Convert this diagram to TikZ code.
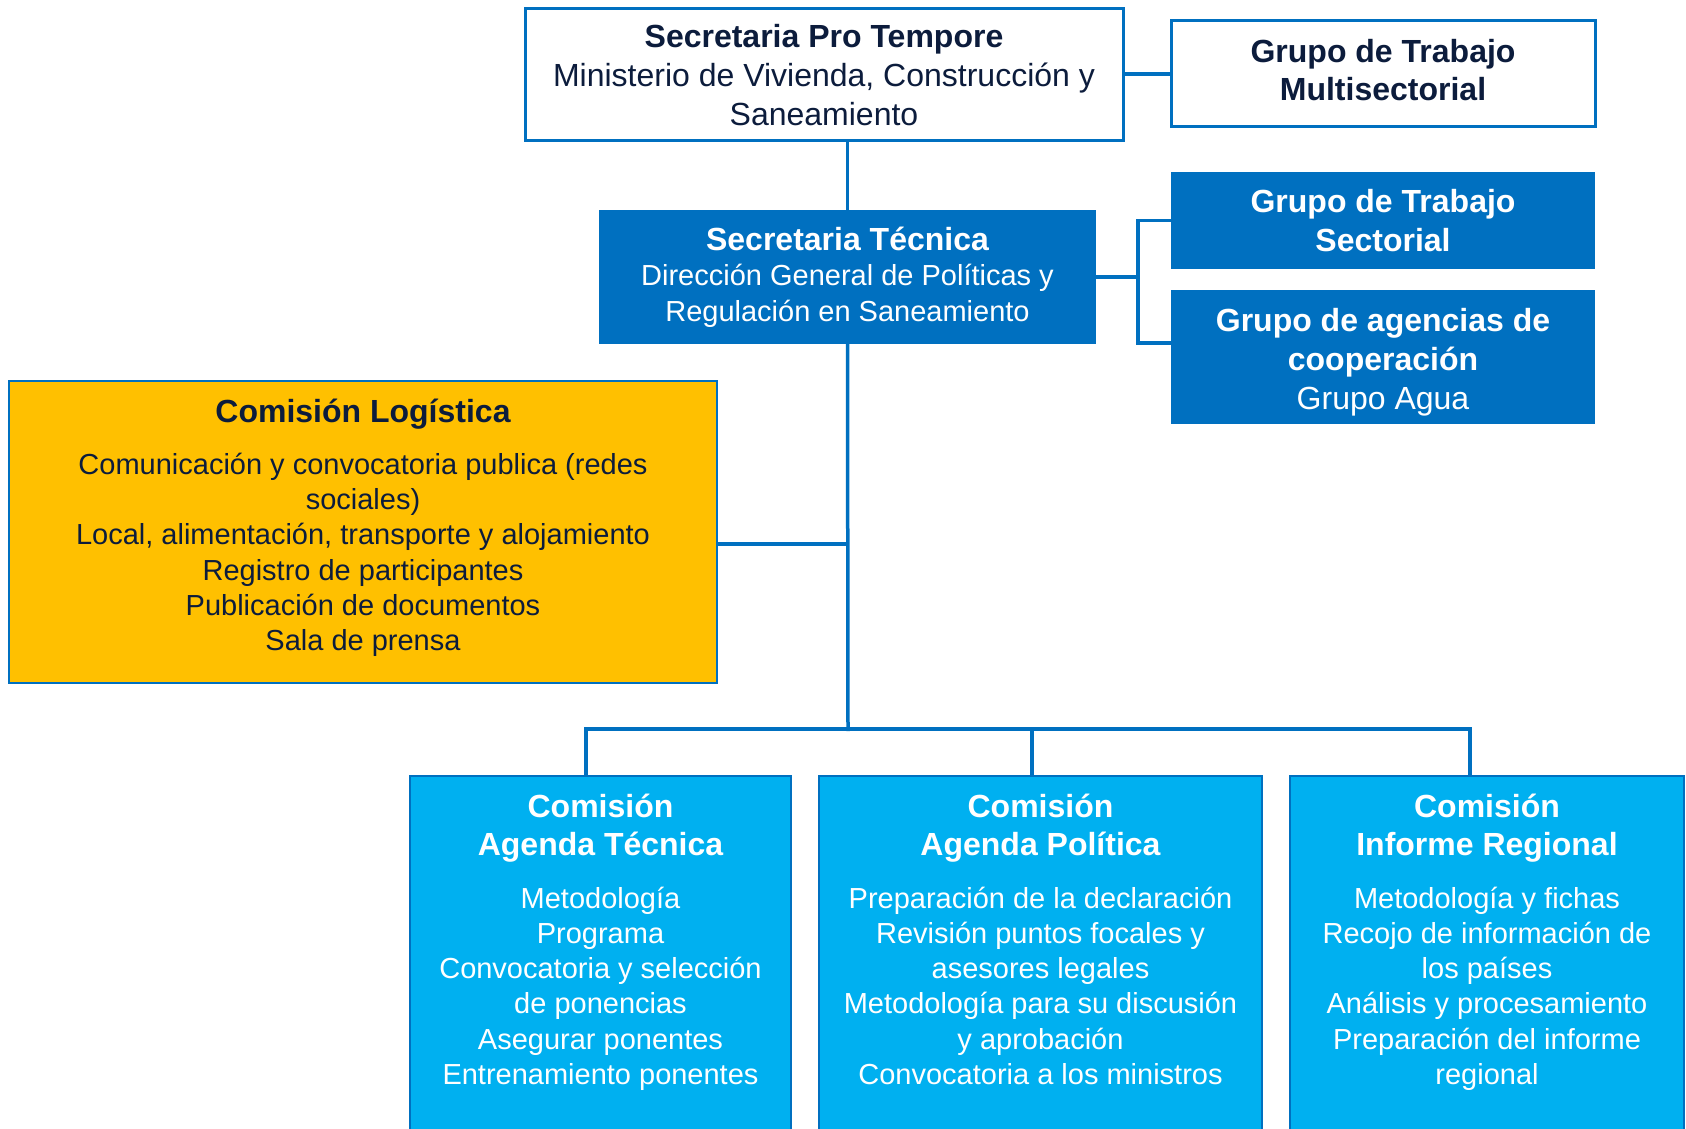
\documentclass[tikz,border=0pt]{standalone}
\usepackage{fontspec}
\setmainfont{Liberation Sans}

\definecolor{boxblue}{RGB}{0,112,192}
\definecolor{skyblue}{RGB}{0,176,240}
\definecolor{gold}{RGB}{255,192,0}
\definecolor{navy}{RGB}{12,28,60}

\newcommand{\headfont}{\fontsize{32}{38.7}\selectfont\bfseries\spaceskip=0pt\xspaceskip=0pt\centering}
\newcommand{\bodyfont}{\fontsize{29}{35.3}\selectfont\mdseries\spaceskip=0pt\xspaceskip=0pt\centering}
\newcommand{\topfont}{\fontsize{32}{38.7}\selectfont\mdseries\spaceskip=0pt\xspaceskip=0pt\centering}

\begin{document}
\begin{tikzpicture}[x=1pt, y=-1pt,
    link/.style={draw=boxblue, line width=3.5pt},
    outlinebox/.style={draw=boxblue, line width=3pt, fill=white, text=navy, inner sep=0pt, align=center},
    darkbox/.style={fill=boxblue, text=white, inner sep=0pt, align=center},
    logbox/.style={draw=boxblue, line width=2pt, fill=gold, text=navy, inner xsep=0pt, inner ysep=17pt, align=center, anchor=north, text height=24pt},
    commbox/.style={draw=boxblue, line width=2pt, fill=skyblue, text=white, inner xsep=0pt, inner ysep=17pt, align=center, anchor=north, text height=24pt, text depth=330pt}]

    % Fix the canvas
    \useasboundingbox (0,0) rectangle (1686,1129);
    \clip (0,0) rectangle (1686,1129);

    % Top level
    \node[outlinebox, minimum width=598pt, minimum height=132pt, text width=580pt] (stp) at (824,75)
        {{\headfont Secretaria Pro Tempore\par}\topfont Ministerio de Vivienda, Construcción y\\ Saneamiento\par};
    \node[outlinebox, minimum width=424pt, minimum height=106pt, text width=410pt, text depth=47pt] (multi) at (1383,74)
        {\headfont Grupo de Trabajo\\ Multisectorial\par};

    % Second level
    \node[darkbox, minimum width=497pt, minimum height=134pt, text width=480pt] (st) at (847.5,277)
        {{\headfont Secretaria Técnica\par}\bodyfont Dirección General de Políticas y\\ Regulación en Saneamiento\par};
    \node[darkbox, minimum width=424pt, minimum height=97pt, text width=410pt] (sect) at (1383,220.5)
        {\headfont Grupo de Trabajo\\ Sectorial\par};
    \node[darkbox, minimum width=424pt, minimum height=134pt, text width=410pt, text height=34pt] (ag) at (1383,357)
        {{\headfont Grupo de agencias de\\ cooperación\par}\topfont Grupo Agua\par};

    % Logistics
    \node[logbox, minimum width=708pt, text width=680pt, text depth=244pt] (log) at (363,380)
        {{\headfont Comisión Logística\par}\vspace{17pt}\bodyfont
         Comunicación y convocatoria publica (redes\\ sociales)\\ Local, alimentación, transporte y alojamiento\\
         Registro de participantes\\ Publicación de documentos\\ Sala de prensa\par};

    % Commissions
    \node[commbox, minimum width=381pt, text width=360pt] (agt) at (600.5,775)
        {{\headfont Comisión\\ Agenda Técnica\par}\vspace{17pt}\bodyfont
         Metodología\\ Programa\\ Convocatoria y selección\\ de ponencias\\ Asegurar ponentes\\ Entrenamiento ponentes\par};
    \node[commbox, minimum width=443pt, text width=430pt] (agp) at (1040.5,775)
        {{\headfont Comisión\\ Agenda Política\par}\vspace{17pt}\bodyfont
         Preparación de la declaración\\ Revisión puntos focales y\\ asesores legales\\
         Metodología para su discusión\\ y aprobación\\ Convocatoria a los ministros\par};
    \node[commbox, minimum width=394pt, text width=380pt] (inf) at (1487,775)
        {{\headfont Comisión\\ Informe Regional\par}\vspace{17pt}\bodyfont
         Metodología y fichas\\ Recojo de información de\\ los países\\ Análisis y procesamiento\\
         Preparación del informe\\ regional\par};

    % Connectors
    \coordinate (brk) at (1138,277);
    \coordinate (hub) at (848,731);
    \coordinate (dropA) at (586,729);
    \coordinate (dropB) at (1032,729);
    \coordinate (dropC) at (1470,729);

    \draw[link] (multi.west -| stp.east) -- (multi.west);
    \draw[link] (stp.south -| st.north) -- (st.north);
    \draw[link] (st.east) -- (brk);
    \draw[link] (sect.west) -| (brk) |- ([yshift=14pt]ag.west);
    \draw[link] (st.south) -- (hub);
    \draw[link] ([yshift=-12pt]log.east) -- ([yshift=-12pt]log.east -| hub);
    \draw[link] (dropA |- agt.north) -- (dropA) -- (dropC) -- (dropC |- inf.north);
    \draw[link] (dropB) -- (dropB |- agp.north);
\end{tikzpicture}
\end{document}
